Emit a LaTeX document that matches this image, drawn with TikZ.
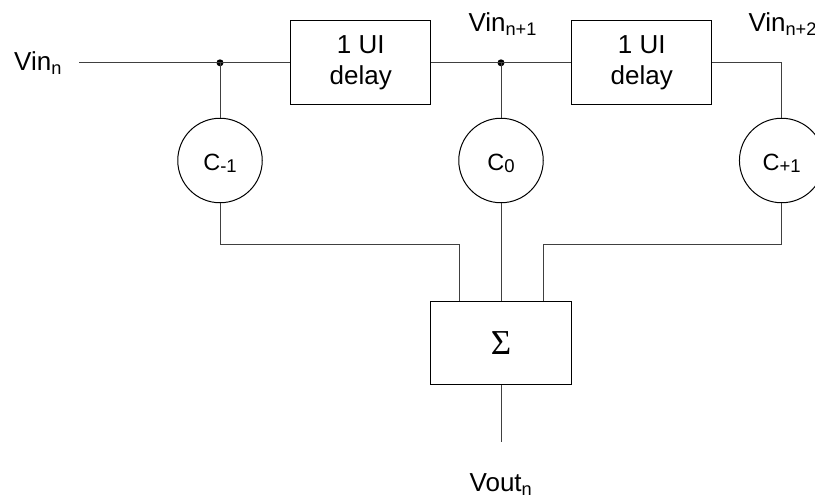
\documentclass[tikz,border=0pt]{standalone}
\usepackage{fontspec}
\setmainfont{Liberation Sans}
\newfontfamily\sigmafont{Liberation Serif}
\usetikzlibrary{calc}

\newcommand\tapidx[1]{\raisebox{-2.5pt}{\fontsize{18.5}{18.5}\selectfont#1}}

\tikzset{
	block/.style={draw=black,line width=1pt,minimum width=140pt,minimum height=84pt,
		inner sep=0pt,align=center,font=\fontsize{26}{31}\selectfont},
	coef/.style={draw=black,circle,line width=1pt,minimum size=84.5pt,inner sep=0pt,
		text height=19pt,text depth=0pt,font=\fontsize{23.5}{28}\selectfont},
	joint/.style={circle,fill=black,inner sep=0pt,minimum size=7pt},
	wire/.style={line width=1pt,draw=black!75},
	lbl/.style={inner sep=0pt,font=\fontsize{26}{31}\selectfont},
}

\begin{document}
\begin{tikzpicture}[x=1pt,y=-1pt]
		% Frame
		\useasboundingbox (0,0) rectangle (815,501);
		% Coordinates
		\coordinate (in) at (79,62.8);
		\coordinate (bus) at (0,244);
		\coordinate (out) at (501,441.7);
		% Delay line
		\node[block] (d1) at (360.8,62.8) {1 UI\\delay};
		\node[block] (d2) at (641.8,62.8) {1 UI\\delay};
		\node[joint] (j1) at (220,62.8) {};
		\node[joint] (j2) at (501,62.8) {};
		% Tap weights
		\node[coef] (cm) at (220,160.5) {C\tapidx{-1}};
		\node[coef] (c0) at (501,160.5) {C\tapidx{0}};
		\node[coef] (cp) at (781.7,160.5) {C\tapidx{+1}};
		% Summer
		\node[block,minimum width=141pt,minimum height=83.3pt] (sum) at (501,343.3)
			{\sigmafont\fontsize{35}{35}\selectfont Σ};
		\coordinate (sL) at ($(sum.north)+(-42,0)$);
		\coordinate (sR) at ($(sum.north)+(42,0)$);
		% Wires
		\draw[wire] (in) -- (d1);
		\draw[wire] (d1) -- (d2);
		\draw[wire] (d2.east) -| (cp);
		\draw[wire] (j1.center) -- (cm);
		\draw[wire] (j2.center) -- (c0);
		\draw[wire] (cm.south) -- (cm.south |- bus) -| (sL);
		\draw[wire] (c0) -- (sum);
		\draw[wire] (cp.south) -- (cp.south |- bus) -| (sR);
		\draw[wire] (sum) -- (out);
		% Labels
		\node[lbl,anchor=base west] (vin0) at (14,70.7) {Vin\textsubscript{n}};
		\node[lbl,anchor=base west] (vin1) at (468.3,31.5) {Vin\textsubscript{n+1}};
		\node[lbl,anchor=base west] (vin2) at (748.3,31.5) {Vin\textsubscript{n+2}};
		\node[lbl,anchor=base] (vout) at (501,491.7) {Vout\textsubscript{n}};
	\end{tikzpicture}
\end{document}
